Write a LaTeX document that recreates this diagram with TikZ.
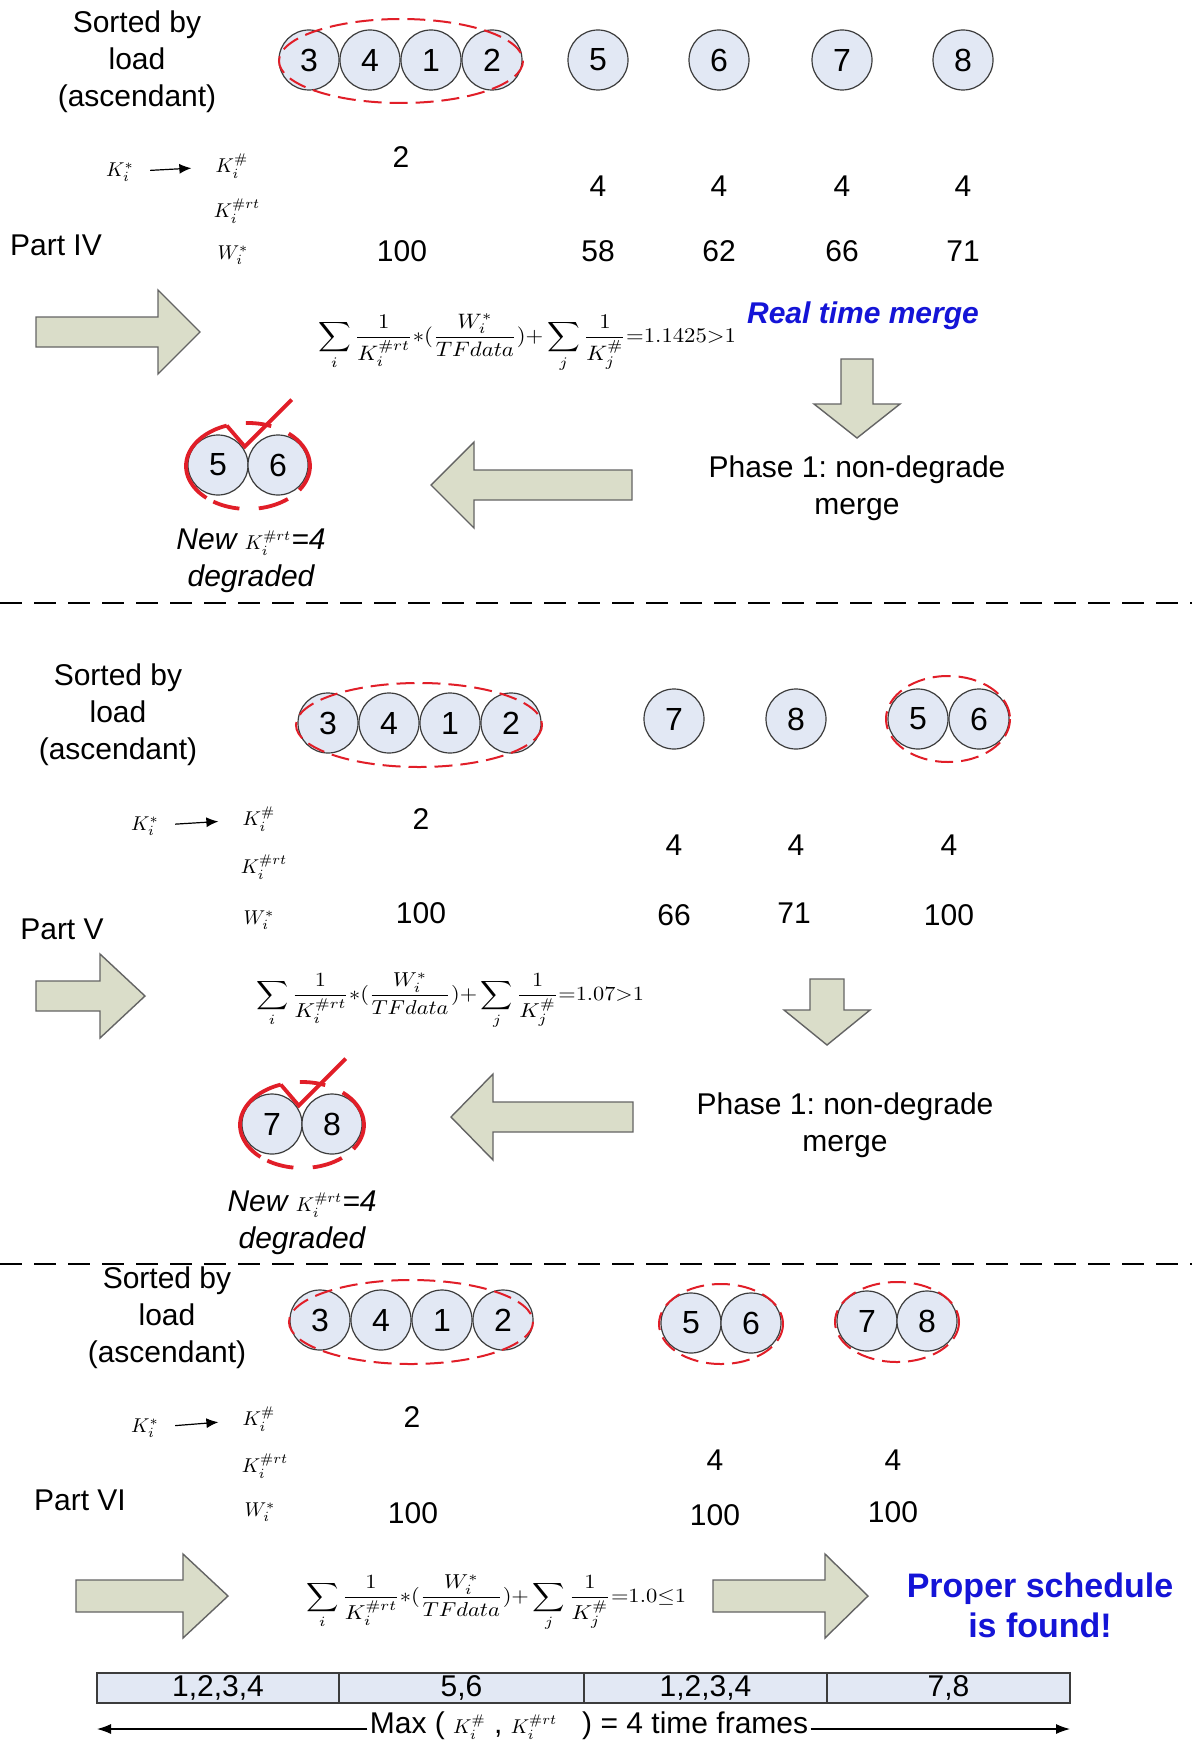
\documentclass[tikz,border=0pt]{standalone}
\usepackage[no-math]{fontspec}
\setmainfont{Liberation Sans}
\usepackage{graphicx}
\usetikzlibrary{arrows.meta,calc}
\frenchspacing
\definecolor{cfill}{RGB}{226,232,244}
\definecolor{cdraw}{RGB}{60,60,60}
\definecolor{afill}{RGB}{218,221,201}
\definecolor{adraw}{RGB}{100,100,100}
\definecolor{gred}{RGB}{225,30,40}
\definecolor{bblue}{RGB}{20,20,215}
\newcommand\ffrm[1]{$\displaystyle\sum_{i}\frac{1}{K_i^{\#rt}}{*}(\frac{W_i^{*}}{TFdata}){+}\sum_{j}\frac{1}{K_j^{\#}}{=}#1$}
\newcommand\mk[1]{{\fontsize{10}{12}\selectfont$#1$}}
% right/left block arrow: x0, xbase, xtip, yc, half shaft, half head
\newcommand\harr[6]{\draw[blk] (#1,#4-#5) -- (#2,#4-#5) -- (#2,#4-#6) -- (#3,#4) -- (#2,#4+#6) -- (#2,#4+#5) -- (#1,#4+#5) -- cycle;}
% down block arrow: xc, y0, ybase, ytip, half shaft, half head
\newcommand\varr[6]{\draw[blk] (#1-#5,#2) -- (#1-#5,#3) -- (#1-#6,#3) -- (#1,#4) -- (#1+#6,#3) -- (#1+#5,#3) -- (#1+#5,#2) -- cycle;}
% degraded pair: x, y, n1, n2, name prefix
\newcommand\degpair[5]{%
  \node[num] (#5a) at (#1-30,#2) {#3};
  \node[num] (#5b) at (#1+30,#2) {#4};
  \draw[mk] (#1,#2+1) ++(-110:62 and 43) arc[start angle=-110, end angle=-228, x radius=62, y radius=43];
  \draw[mk] (#1,#2+1) ++(-236:62 and 43) arc[start angle=-236, end angle=-262, x radius=62, y radius=43];
  \draw[mk] (#1,#2+1) ++(-280:62 and 43) arc[start angle=-280, end angle=-310, x radius=62, y radius=43];
  \draw[mk] (#1,#2+1) ++(34:62 and 43) arc[start angle=34, end angle=-49, x radius=62, y radius=43];
  \draw[mk] (#1,#2+1) ++(-68:62 and 43) arc[start angle=-68, end angle=-92, x radius=62, y radius=43];
  \draw[mk, line join=miter] (#1,#2+1) ++(-110:62 and 43) -- ++(18,21) -- ++(47,-47);
}
\begin{document}
\begin{tikzpicture}[x=0.5pt,y=-0.5pt,
  txt/.style={font=\fontsize{15}{18.5}\selectfont, align=center, inner sep=0pt},
  val/.style={font=\fontsize{15}{18}\selectfont, inner sep=0pt},
  num/.style={circle, draw=cdraw, line width=0.6pt, fill=cfill, minimum size=30pt, inner sep=0pt, font=\fontsize{16}{18}\selectfont},
  grp/.style={draw=gred, line width=1pt, dash pattern=on 9pt off 4pt},
  mk/.style={draw=gred, line width=1.9pt},
  lbl/.style={inner sep=1pt},
  blk/.style={fill=afill, draw=adraw, line width=0.7pt, line join=miter},
  karr/.style={-{Latex[length=6pt,width=5pt]}, line width=0.6pt, shorten <=7pt, shorten >=11pt},
  sep/.style={draw=black, line width=1pt, dash pattern=on 11pt off 6pt},
  cell/.style={rectangle, draw=cdraw, line width=0.7pt, fill=cfill, minimum height=15pt, inner sep=0pt, font=\fontsize{15}{18}\selectfont},
  blue/.style={text=bblue, font=\fontsize{15}{18.5}\selectfont\bfseries\itshape, inner sep=0pt},
]
\fill[white] (0,0) rectangle (1192,1744);
\useasboundingbox (0,0) rectangle (1192,1744);

%%%%%%%%%% Part IV
\node[txt] (s4) at (137,62) {Sorted by\\load\\(ascendant)};
\node[num] (c4a) at (309,60) {3};
\node[num] (c4b) at (370,60) {4};
\node[num] (c4c) at (431,60) {1};
\node[num] (c4d) at (492,60) {2};
\draw[grp] (401,61) ellipse [x radius=122, y radius=42];
\node[num] (c45) at (598,60) {5};
\node[num] (c46) at (719,60) {6};
\node[num] (c47) at (842,60) {7};
\node[num] (c48) at (963,60) {8};

\node[lbl] (ks4) at (120,172) {$K_i^{*}$};
\node[lbl] (kh4) at (232,166) {$K_i^{\#}$};
\node[lbl] (kr4) at (237,211) {$K_i^{\#rt}$};
\node[lbl] (kw4) at (233,255) {$W_i^{*}$};
\draw[karr] (ks4) -- (kh4);
\node[txt] (p4) at (56,245) {Part IV};
\node[val] (v4a) at (401,157) {2};
\node[val] (v4b) at (598,186) {4};
\node[val] (v4c) at (719,186) {4};
\node[val] (v4d) at (842,186) {4};
\node[val] (v4e) at (963,186) {4};
\node[val] (w4a) at (402,251) {100};
\node[val] (w4b) at (598,251) {58};
\node[val] (w4c) at (719,251) {62};
\node[val] (w4d) at (842,251) {66};
\node[val] (w4e) at (963,251) {71};

\harr{36}{158}{200}{332}{15}{42}
\node[inner sep=0pt] (f4) at (527,343) {\resizebox*{209pt}{29pt}{\ffrm{1.1425{>}1}}};
\node[blue] (rt4) at (863,316) {Real time merge};
\varr{857}{359}{404}{438}{16}{43}
\node[txt] (ph4) at (857,488) {Phase 1: non-degrade\\merge};
\harr{632}{474}{431}{485}{15}{43}
\degpair{248}{465}{5}{6}{d4}
\node[txt, font=\fontsize{15}{18.5}\selectfont\itshape] (n4) at (251,561) {New \mk{K_i^{\#rt}}=4\\degraded};

\draw[sep] (0,603) -- (1192,603);

%%%%%%%%%% Part V
\node[txt] (s5) at (118,715) {Sorted by\\load\\(ascendant)};
\node[num] (c5a) at (328,723) {3};
\node[num] (c5b) at (389,723) {4};
\node[num] (c5c) at (450,723) {1};
\node[num] (c5d) at (511,723) {2};
\draw[grp] (419,725) ellipse [x radius=123, y radius=42];
\node[num] (c57) at (674,719) {7};
\node[num] (c58) at (796,719) {8};
\node[num] (c55) at (918,719) {5};
\node[num] (c56) at (979,719) {6};
\draw[grp] (948,719) ellipse [x radius=62, y radius=43];

\node[lbl] (ks5) at (145,826) {$K_i^{*}$};
\node[lbl] (kh5) at (259,819) {$K_i^{\#}$};
\node[lbl] (kr5) at (264,867) {$K_i^{\#rt}$};
\node[lbl] (kw5) at (259,920) {$W_i^{*}$};
\draw[karr] (ks5) -- (kh5);
\node[txt] (p5) at (62,929) {Part V};
\node[val] (v5a) at (421,819) {2};
\node[val] (v5b) at (674,845) {4};
\node[val] (v5c) at (796,845) {4};
\node[val] (v5d) at (949,845) {4};
\node[val] (w5a) at (421,913) {100};
\node[val] (w5b) at (674,915) {66};
\node[val] (w5c) at (794,913) {71};
\node[val] (w5d) at (949,915) {100};

\harr{36}{100}{145}{996}{15}{42}
\node[inner sep=0pt] (f5) at (450,1001) {\resizebox*{194pt}{28pt}{\ffrm{1.07{>}1}}};
\varr{827}{979}{1010}{1045}{17}{43}
\node[txt] (ph5) at (845,1125) {Phase 1: non-degrade\\merge};
\harr{633}{493}{451}{1117}{15}{43}
\degpair{302}{1124}{7}{8}{d5}
\node[txt, font=\fontsize{15}{18.5}\selectfont\itshape] (n5) at (302,1223) {New \mk{K_i^{\#rt}}=4\\degraded};

\draw[sep] (0,1264) -- (1192,1264);

%%%%%%%%%% Part VI
\node[txt] (s6) at (167,1318) {Sorted by\\load\\(ascendant)};
\node[num] (c6a) at (320,1320) {3};
\node[num] (c6b) at (381,1320) {4};
\node[num] (c6c) at (442,1320) {1};
\node[num] (c6d) at (503,1320) {2};
\draw[grp] (411,1322) ellipse [x radius=122, y radius=42];
\node[num] (c65) at (691,1323) {5};
\node[num] (c66) at (751,1323) {6};
\draw[grp] (721,1324) ellipse [x radius=62, y radius=40];
\node[num] (c67) at (867,1321) {7};
\node[num] (c68) at (927,1321) {8};
\draw[grp] (897,1322) ellipse [x radius=62, y radius=40];

\node[lbl] (ks6) at (145,1428) {$K_i^{*}$};
\node[lbl] (kh6) at (259,1419) {$K_i^{\#}$};
\node[lbl] (kr6) at (265,1466) {$K_i^{\#rt}$};
\node[lbl] (kw6) at (260,1512) {$W_i^{*}$};
\draw[karr] (ks6) -- (kh6);
\node[txt] (p6) at (80,1500) {Part VI};
\node[val] (v6a) at (412,1417) {2};
\node[val] (v6b) at (715,1460) {4};
\node[val] (v6c) at (893,1460) {4};
\node[val] (w6a) at (413,1513) {100};
\node[val] (w6b) at (715,1515) {100};
\node[val] (w6c) at (893,1512) {100};

\harr{76}{183}{228}{1596}{16}{42}
\node[inner sep=0pt] (f6) at (496,1603) {\resizebox*{190pt}{28pt}{\ffrm{1.0{\le}1}}};
\harr{713}{825}{868}{1596}{16}{42}
\node[txt, text=bblue, font=\fontsize{17}{20}\selectfont\bfseries] (ok) at (1040,1605) {Proper schedule\\is found!};

% timeline
\node[cell, minimum width=121pt] (t1) at (218,1688) {1,2,3,4};
\node[cell, minimum width=122.5pt] (t2) at (461.5,1688) {5,6};
\node[cell, minimum width=121.5pt] (t3) at (705.5,1688) {1,2,3,4};
\node[cell, minimum width=121.5pt] (t4) at (948.5,1688) {7,8};
\node[txt, inner xsep=1pt] (mx) at (589,1726) {Max ( \mk{K_i^{\#}} , \mk{K_i^{\#rt}} \ \ ) = 4 time frames};
\coordinate (tl) at (97,1729);
\coordinate (tr) at (1070,1729);
\draw[-{Latex[length=7pt,width=5pt]}, line width=0.6pt] (mx.west |- tl) -- (tl);
\draw[-{Latex[length=7pt,width=5pt]}, line width=0.6pt] (mx.east |- tr) -- (tr);
\end{tikzpicture}
\end{document}
